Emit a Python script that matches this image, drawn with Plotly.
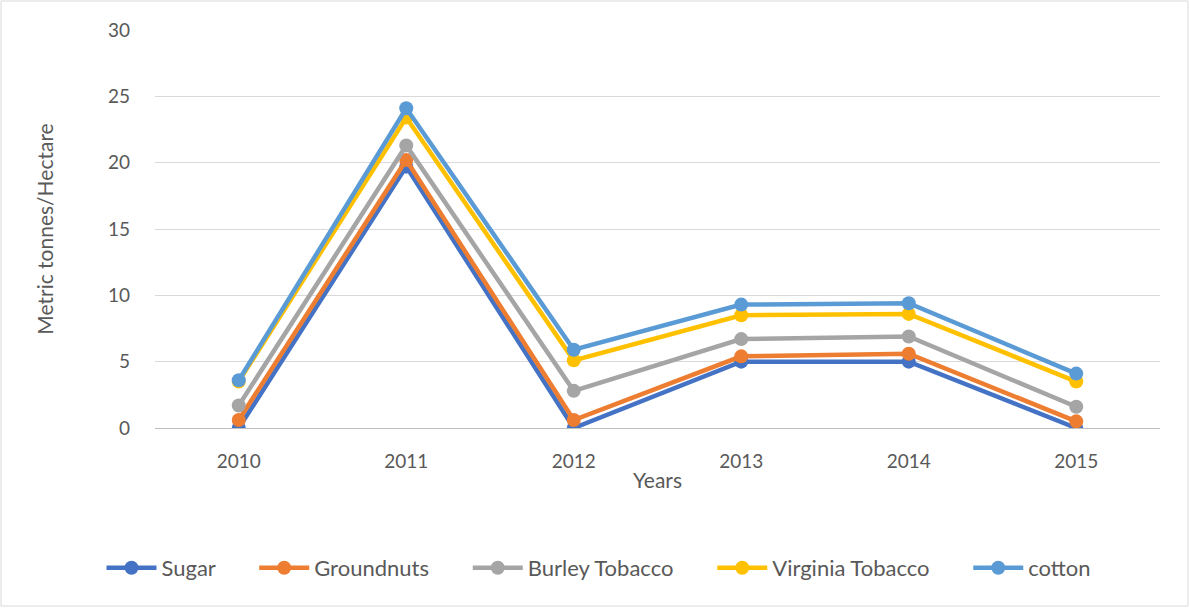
import plotly.graph_objects as go

years = ["2010", "2011", "2012", "2013", "2014", "2015"]
sugar = [0.0, 19.7, 0.0, 5.0, 5.0, 0.0]
groundnuts = [0.6, 20.2, 0.6, 5.4, 5.6, 0.5]
burley = [1.7, 21.3, 2.8, 6.7, 6.9, 1.6]
virginia = [3.5, 23.4, 5.1, 8.5, 8.6, 3.5]
cotton = [3.6, 24.1, 5.9, 9.3, 9.4, 4.1]

series = [
    ("Sugar", sugar, "#4472C4"),
    ("Groundnuts", groundnuts, "#ED7D31"),
    ("Burley Tobacco", burley, "#A5A5A5"),
    ("Virginia Tobacco", virginia, "#FFC000"),
    ("cotton", cotton, "#5B9BD5"),
]

fig = go.Figure()
for i, (name, vals, col) in enumerate(series):
    pad = "\u00a0" * 6 if i < len(series) - 1 else ""
    fig.add_trace(go.Scatter(
        x=years, y=vals, name=name + pad, mode="lines+markers",
        line=dict(color=col, width=4.5),
        marker=dict(color=col, size=14),
        hovertemplate=name + ": %{y}<extra></extra>",
    ))

L, R, T, B = 155, 30, 30, 180
W, H = 1190, 608
pw, ph = W - L - R, H - T - B

fig.update_layout(
    width=W, height=H,
    margin=dict(l=L, r=R, t=T, b=B),
    paper_bgcolor="white", plot_bgcolor="white",
    font=dict(family="Lato, Liberation Sans, sans-serif", color="#595959", size=19),
    xaxis=dict(
        type="category", range=[-0.5, 5.5], showgrid=False,
        showline=False, ticks="", tickfont=dict(size=19, color="#595959"),
        ticklabelstandoff=20,
        title=dict(text="Years", font=dict(size=21, color="#595959"), standoff=2),
    ),
    yaxis=dict(
        range=[0, 30], dtick=5, showgrid=True, gridcolor="#D9D9D9", gridwidth=1,
        zeroline=True, zerolinecolor="#BFBFBF", zerolinewidth=1,
        showline=False, ticks="", tickfont=dict(size=19, color="#595959"),
        ticklabelstandoff=24,
        title=dict(text="Metric tonnes/Hectare", font=dict(size=21, color="#595959"), standoff=48),
    ),
    legend=dict(
        orientation="h", x=(599 - L) / pw, xanchor="center", y=-(568 - (H - B)) / ph, yanchor="middle",
        font=dict(size=22, color="#595959"), itemwidth=50, traceorder="normal",
    ),
    showlegend=True,
)

fig.add_shape(
    type="rect", xref="paper", yref="paper",
    x0=(1 - L) / pw, x1=(W - 2 - L) / pw,
    y0=((H - B) - (H - 2)) / ph, y1=((H - B) - 1) / ph,
    line=dict(color="#D9D9D9", width=1), fillcolor="rgba(0,0,0,0)", layer="below",
)

fig.write_html("out.html")
